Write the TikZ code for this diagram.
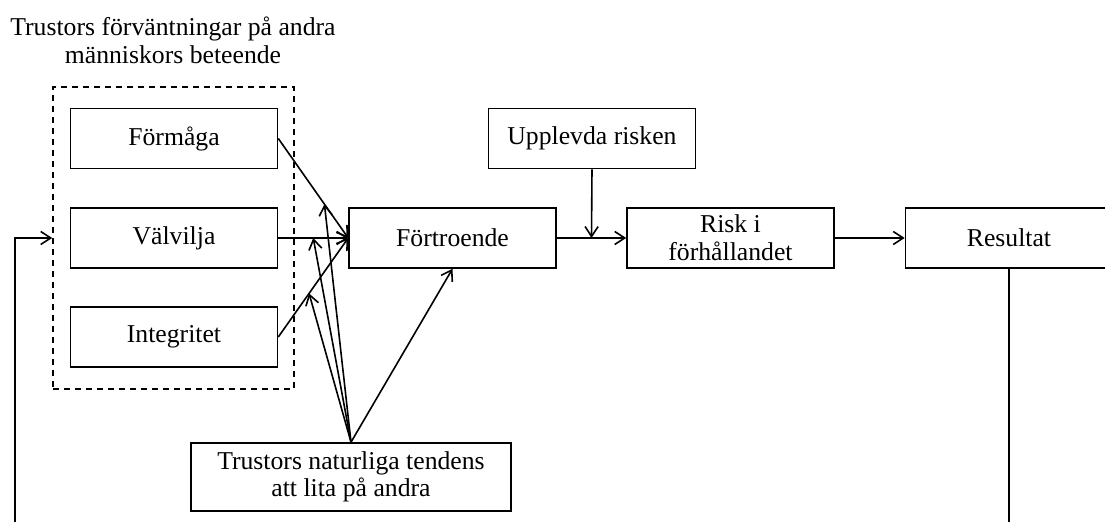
\documentclass[tikz,border=0pt]{standalone}
\usepackage{fontspec}
\setmainfont{Liberation Serif}
\usetikzlibrary{arrows.meta}

\begin{document}
\begin{tikzpicture}[x=0.5pt,y=-0.5pt,line width=0.8pt,
    >={Straight Barb[length=5pt,width=6.5pt]},
    box/.style={draw,rectangle,inner sep=0pt,minimum width=103.5pt,minimum height=30pt,
      align=center,font=\fontsize{12.85}{13.8}\selectfont},
    label text/.style={align=center,font=\fontsize{12.85}{14}\selectfont}]
    \useasboundingbox (0,0) rectangle (1105,522);
    % Draw the expectation group and its boxes
    \node[label text] (title) at (173,40) {Trustors förväntningar på andra\\människors beteende};
    \node[draw,dashed,dash pattern=on 3pt off 2.5pt,minimum width=120.5pt,minimum height=151pt] (expect) at (173.5,238) {};
    \node[box] (formaga) at (174,138.5) {Förmåga};
    \node[box] (valvilja) at (174,238) {Välvilja};
    \node[box] (integritet) at (174,337) {Integritet};
    % Draw the main chain
    \node[box] (fortroende) at (452.5,238) {Förtroende};
    \node[box] (upplevda) at (592,138.5) {Upplevda risken};
    \node[box] (risk) at (730.5,238) {Risk i\\förhållandet};
    \node[box] (resultat) at (1009,238) {Resultat};
    \node[box,minimum width=160pt,minimum height=34pt] (tendens) at (351,477) {Trustors naturliga tendens\\att lita på andra};
    % Draw the arrows into Förtroende
    \draw[->] (formaga.east) -- coordinate[pos=0.66] (mF) (fortroende.west);
    \draw[->] (valvilja.east) -- coordinate[pos=0.5] (mV) (fortroende.west);
    \draw[->] (integritet.east) -- coordinate[pos=0.44] (mI) (fortroende.west);
    \foreach \m in {mF,mV,mI}{
      \draw[->] (tendens.north) -- (\m);
    }
    \draw[->] (tendens.north) -- (fortroende.south);
    % Draw the chain to Resultat
    \draw[->] (fortroende.east) -- coordinate[pos=0.5] (mR) (risk.west);
    \draw[->] (upplevda.south) -- (mR);
    \draw[->] (risk.east) -- (resultat.west);
    % Draw the feedback loop
    \coordinate (loopR) at (1009,526);
    \coordinate (loopL) at (15,526);
    \draw (resultat.south) -- (loopR);
    \draw[->] (loopL) |- (expect.west);
\end{tikzpicture}
\end{document}
